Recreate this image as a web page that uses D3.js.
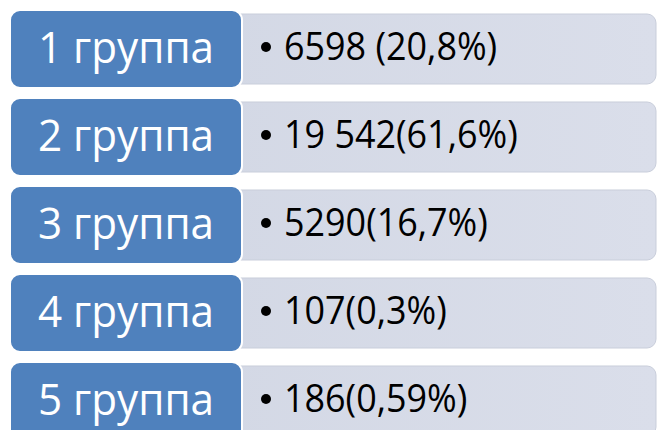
<!DOCTYPE html>
<html>
<head>
<meta charset="utf-8">
<script src="https://cdn.jsdelivr.net/npm/d3@7"></script>
<style>
  body { margin: 0; background: #fff; }
  svg { display: block; }
</style>
</head>
<body>
<div id="chart"></div>
<script>
var w = 660,
	h = 430;

// groups and their counts as written on the slide
var groups = ["1 группа", "2 группа", "3 группа", "4 группа", "5 группа"];
var counts = ["6598 ", "19 542", "5290", "107", "186"];
var shares = ["20,8%", "61,6%", "16,7%", "0,3%", "0,59%"];

var svg = d3.select("#chart").append("svg")
	.attr("width", w)
	.attr("height", h);

var defs = svg.append("defs");
var grad = defs.append("linearGradient")
	.attr("id", "greyfill")
	.attr("x1", "0%").attr("x2", "100%")
	.attr("y1", "0%").attr("y2", "0%");
grad.append("stop").attr("offset", "0%").attr("stop-color", "#d3d8e5");
grad.append("stop").attr("offset", "100%").attr("stop-color", "#dadeea");

var y = d3.scaleBand()
	.domain(groups)
	.range([10, 440])
	.paddingInner(0.1136)
	.paddingOuter(0);

var x = d3.scaleLinear()
	.domain([0, 1])
	.range([10, 656]);

var row = svg.selectAll("g.row")
	.data(groups)
	.enter()
	.append("g")
	.attr("class", "row")
	.attr("transform", function(d) { return "translate(0," + y(d) + ")"; });

// light box with the number
row.append("rect")
	.attr("x", x(0.3))
	.attr("y", 4)
	.attr("width", x(1) - x(0.3))
	.attr("height", y.bandwidth() - 8)
	.attr("rx", 9)
	.style("fill", "url(#greyfill)")
	.style("stroke", "#c9cedb")
	.style("stroke-width", 1);

// blue box with the group name
row.append("rect")
	.attr("x", x(0))
	.attr("y", 0)
	.attr("width", 232)
	.attr("height", y.bandwidth())
	.attr("rx", 10)
	.style("fill", "#4f81bd")
	.style("stroke", "#fff")
	.style("stroke-width", 2);

// text is squeezed a little to look like the narrow slide font
var squeeze = 0.96;

row.append("text")
	.attr("x", 126)
	.attr("y", y.bandwidth() / 2 + 14)
	.attr("text-anchor", "middle")
	.attr("font-family", "'Open Sans', sans-serif")
	.attr("font-size", "44px")
	.attr("fill", "#fff")
	.text(function(d) { return d; })
	.attr("textLength", function() { return this.getComputedTextLength() * squeeze; })
	.attr("lengthAdjust", "spacingAndGlyphs");

row.append("circle")
	.attr("cx", 266)
	.attr("cy", y.bandwidth() / 2 - 2)
	.attr("r", 5)
	.attr("fill", "#000");

row.append("text")
	.attr("x", 284)
	.attr("y", y.bandwidth() / 2 + 11)
	.attr("font-family", "'Open Sans', sans-serif")
	.attr("font-size", "38px")
	.attr("fill", "#000")
	.text(function(d, i) { return counts[i] + "(" + shares[i] + ")"; })
	.attr("textLength", function() { return this.getComputedTextLength() * 0.945; })
	.attr("lengthAdjust", "spacingAndGlyphs");
</script>
</body>
</html>
